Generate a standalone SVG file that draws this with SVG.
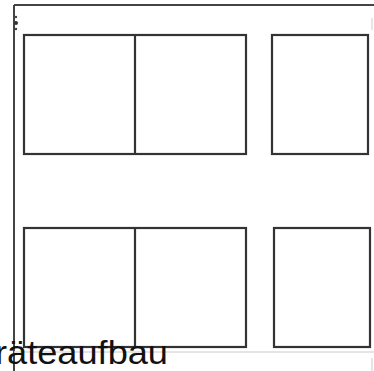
<svg xmlns="http://www.w3.org/2000/svg" width="374" height="371" viewBox="0 0 374 371">
<style>
.box{fill:none;stroke:#333;stroke-width:2.2}
.frame{fill:none;stroke:#444;stroke-width:2}
.faint{fill:none;stroke:#ddd;stroke-width:1.5}
.lbl{font-family:"Liberation Sans",Arial,sans-serif;font-size:33px;fill:#111}
</style>
<rect width="374" height="371" fill="#fff"/>
<g id="frame">
<line class="frame" x1="14" y1="5" x2="374" y2="5"/>
<line class="frame" x1="14" y1="5" x2="14" y2="371"/>
<line class="faint" x1="14" y1="352" x2="374" y2="352"/>
<line class="faint" x1="372" y1="18" x2="372" y2="30"/>
<line class="faint" x1="372" y1="358" x2="372" y2="371"/>
<circle cx="16" cy="17" r="1.2" fill="#444"/>
<circle cx="16" cy="23" r="2" fill="#333"/>
<circle cx="16" cy="29" r="1.2" fill="#444"/>
</g>
<g id="top-left">
<rect class="box" x="24" y="35" width="222" height="119"/>
<line class="box" x1="135" y1="35" x2="135" y2="154"/>
</g>
<g id="top-right">
<rect class="box" x="272" y="35" width="96" height="119"/>
</g>
<g id="bottom-left">
<rect class="box" x="24" y="228" width="222" height="119"/>
<line class="box" x1="135" y1="228" x2="135" y2="347"/>
</g>
<g id="bottom-right">
<rect class="box" x="274" y="228" width="96" height="119"/>
</g>
<g id="connectors"></g>
<text class="lbl" x="-5" y="364" textLength="173" lengthAdjust="spacingAndGlyphs">räteaufbau</text>
</svg>
